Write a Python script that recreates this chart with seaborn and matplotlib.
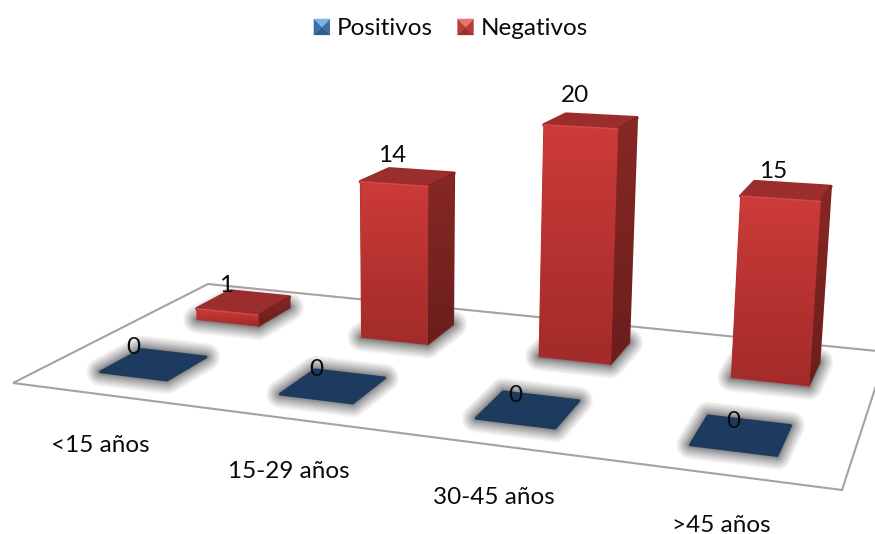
import numpy as np
import pandas as pd
import matplotlib
matplotlib.use("Agg")
import matplotlib.pyplot as plt
import seaborn as sns
from matplotlib.colors import to_rgb
from matplotlib.legend_handler import HandlerBase
from matplotlib.patches import Patch, Polygon
from matplotlib.transforms import Transform

# Chart values
age_groups = ["<15 años", "15-29 años", "30-45 años", ">45 años"]
positivos = [0, 0, 0, 0]
negativos = [1, 14, 20, 15]
series_names = ["Positivos", "Negativos"]

# Layout of the tilted floor, in canvas pixels
W, H = 875, 534
FLOOR_CORNERS = np.array([[13, 383], [842, 490], [887, 352], [208, 284]], float)
FLOOR_UV = np.array([[-0.5, -0.5], [3.5, -0.5], [3.5, 1.5], [-0.5, 1.5]], float)
SERIES_DEPTH = {"Positivos": 0.0, "Negativos": 1.0}
BAR_WIDTH = 0.38
BAR_DEPTH = 0.40
LEAN_X0, LEAN_K = 410.0, 0.00016
SCALE_AT_345, SCALE_SLOPE = 11.3, 0.0244
SHADOW_WIDTHS = np.linspace(1.0, 4.5, 14) ** 2

VALUE_LABEL_XY = {
    "Positivos": [(133, 347), (316, 370), (515, 395), (733, 422)],
    "Negativos": [(226, 285), (392, 156), (575, 96), (773, 172)],
}
CATEGORY_LABEL_XY = [(100, 446), (289, 472), (494, 498), (721, 525)]


def floor_homography(src, dst):
    rows, rhs = [], []
    for (u, v), (x, y) in zip(src, dst):
        rows.append([u, v, 1, 0, 0, 0, -u * x, -v * x])
        rows.append([0, 0, 0, u, v, 1, -u * y, -v * y])
        rhs += [x, y]
    return np.append(np.linalg.solve(np.array(rows), np.array(rhs)), 1).reshape(3, 3)


HOMOGRAPHY = floor_homography(FLOOR_UV, FLOOR_CORNERS)


def project(u, d, z=0.0):
    """Map category position, depth and value to canvas pixels."""
    u, d, z = np.broadcast_arrays(np.asarray(u, float), np.asarray(d, float), np.asarray(z, float))
    q = HOMOGRAPHY @ np.stack([u, d, np.ones_like(u)])
    bx, by = q[0] / q[2], q[1] / q[2]
    lift = z * (SCALE_AT_345 + (by - 345) * SCALE_SLOPE)
    lean = (bx - LEAN_X0) * LEAN_K
    return np.stack([bx + lift * lean, by - lift], axis=-1)


class FrontFace(Transform):
    """Carries a bar's (x, height) rectangle onto its front plane on the floor."""

    input_dims = 2
    output_dims = 2
    is_separable = False
    has_inverse = False

    def __init__(self, plane_depth):
        super().__init__()
        self.plane_depth = plane_depth

    def transform_non_affine(self, values):
        values = np.asarray(values, float)
        return project(values[:, 0], np.full(len(values), self.plane_depth), values[:, 1])


def vertical_gradient(ax, clip, top_y, bottom_y, top_color, bottom_color, zorder):
    t = np.linspace(0, 1, 64)[:, None, None]
    grid = (1 - t) * np.array(to_rgb(top_color))[None, None, :] + t * np.array(to_rgb(bottom_color))[None, None, :]
    image = ax.imshow(grid, extent=(0, W, bottom_y, top_y), aspect="auto",
                      interpolation="bilinear", zorder=zorder)
    image.set_clip_path(clip.get_path(), clip.get_transform())
    return image


def soft_shadow(ax, outline, zorder):
    """Feathered shadow on the floor: stacked translucent outlines of a footprint."""
    for width in SHADOW_WIDTHS:
        ax.add_patch(Polygon(outline, closed=True, facecolor="none", edgecolor="black",
                             alpha=0.05, linewidth=width, joinstyle="round", zorder=zorder))


class PyramidSwatch(HandlerBase):
    """Legend key drawn as a small bevelled square."""

    def __init__(self, shades):
        super().__init__()
        self.shades = shades

    def create_artists(self, legend, orig_handle, xdescent, ydescent, width, height, fontsize, trans):
        side = min(width, height)
        x0 = -xdescent + (width - side) / 2
        y0 = -ydescent + (height - side) / 2
        x1, y1 = x0 + side, y0 + side
        cx, cy = x0 + side / 2, y0 + side / 2
        tris = [
            [(x0, y0), (x0, y1), (cx, cy)],
            [(x1, y0), (x1, y1), (cx, cy)],
            [(x0, y0), (x1, y0), (cx, cy)],
            [(x0, y1), (x1, y1), (cx, cy)],
        ]
        return [Polygon(t, closed=True, facecolor=c, edgecolor=c, linewidth=0.2, transform=trans)
                for t, c in zip(tris, self.shades)]


sns.set_theme(style="white")
plt.rcParams["font.family"] = ["Lato", "DejaVu Sans"]

table = pd.DataFrame({
    "edad": age_groups * 2,
    "serie": [series_names[0]] * 4 + [series_names[1]] * 4,
    "casos": positivos + negativos,
})

fig = plt.figure(figsize=(W / 100, H / 100), dpi=100, facecolor="white")
ax = fig.add_axes([0, 0, 1, 1])
sns.barplot(data=table, x="edad", y="casos", hue="serie", order=age_groups,
            hue_order=series_names, palette=["#1D3A5F", "#B5302E"], dodge=False,
            width=BAR_WIDTH, errorbar=None, legend=False, linewidth=0, ax=ax)

# The floor
u0, u1, d0, d1 = -0.5, 3.5, -0.5, 1.5
floor = Polygon(project([u0, u1, u1, u0], [d0, d0, d1, d1]), closed=True, facecolor="white",
                edgecolor="#A3A3A3", linewidth=1.5, joinstyle="miter", zorder=1)
ax.add_patch(floor)

# Bars: seaborn's rectangles are put in perspective and given top and side faces
containers = dict(zip(series_names, ax.containers))
depth_half = BAR_DEPTH / 2
z = 3.0
for name in ["Negativos", "Positivos"]:
    depth = SERIES_DEPTH[name]
    front_d = depth - depth_half
    back_d = depth + depth_half
    for rect in containers[name]:
        x0 = rect.get_x()
        x1 = x0 + rect.get_width()
        v = rect.get_height()
        base = project([x0, x1, x1, x0], [front_d, front_d, back_d, back_d])
        soft_shadow(ax, base, 2)
        rect.set_transform(FrontFace(front_d) + ax.transData)
        if v == 0:
            rect.set_visible(False)
            ax.add_patch(Polygon(base, closed=True, facecolor="#1D3A5F", edgecolor="#1D3A5F",
                                 linewidth=2.0, joinstyle="round", zorder=z))
            z += 1
            continue
        top = project([x0, x1, x1, x0], [front_d, front_d, back_d, back_d], v)
        top_face = Polygon(top, closed=True, facecolor="#9B2E2C", edgecolor="#9B2E2C",
                           linewidth=2.5, joinstyle="round", zorder=z)
        ax.add_patch(top_face)
        side_pts = np.vstack([project([x1, x1], [front_d, back_d]), project([x1, x1], [back_d, front_d], v)])
        side = Polygon(side_pts, closed=True, facecolor="#7A2220", edgecolor="#7A2220",
                       linewidth=1.5, joinstyle="round", zorder=z + 0.1)
        ax.add_patch(side)
        vertical_gradient(ax, side, side_pts[:, 1].min(), side_pts[:, 1].max(),
                          "#872825", "#6A1E1C", z + 0.2)
        rect.set_zorder(z + 0.3)
        rect.set_edgecolor("#B5302E")
        rect.set_linewidth(0.8)
        front_pts = project([x0, x1, x1, x0], [front_d] * 4, [0, 0, v, v])
        vertical_gradient(ax, rect, front_pts[:, 1].min(), front_pts[:, 1].max(),
                          "#CC3B39", "#A22B29", z + 0.4)
        ax.plot(top[:2, 0], top[:2, 1], color="#D9504D", lw=1.0, alpha=0.8, zorder=z + 0.5,
                solid_capstyle="round")
        z += 1

# Value and category labels
text_style = dict(ha="center", va="center", color="#0A0A0A", zorder=100, fontsize=17.5)
for name, values in zip(series_names, [positivos, negativos]):
    for value, (tx, ty) in zip(values, VALUE_LABEL_XY[name]):
        ax.text(tx, ty, str(value), **text_style)
for label, (tx, ty) in zip(age_groups, CATEGORY_LABEL_XY):
    ax.text(tx, ty, label, **text_style)

# Legend with bevelled keys
blue_key = Patch(label=series_names[0])
red_key = Patch(label=series_names[1])
ax.legend(handles=[blue_key, red_key], loc="center", ncol=2, frameon=False,
          bbox_to_anchor=(451 / W, 1 - 29 / H), fontsize=17.5, handlelength=0.66, handleheight=0.66,
          handletextpad=0.3, columnspacing=1.0, labelcolor="#0A0A0A",
          handler_map={
              blue_key: PyramidSwatch(["#3C6FA8", "#3C6FA8", "#2F5E93", "#7DB2E6"]),
              red_key: PyramidSwatch(["#B93C39", "#B93C39", "#9D2F2D", "#E8736E"]),
          })

ax.set_xlim(0, W)
ax.set_ylim(H, 0)
ax.set_axis_off()
fig.savefig("out.png", dpi=100, facecolor="white")
